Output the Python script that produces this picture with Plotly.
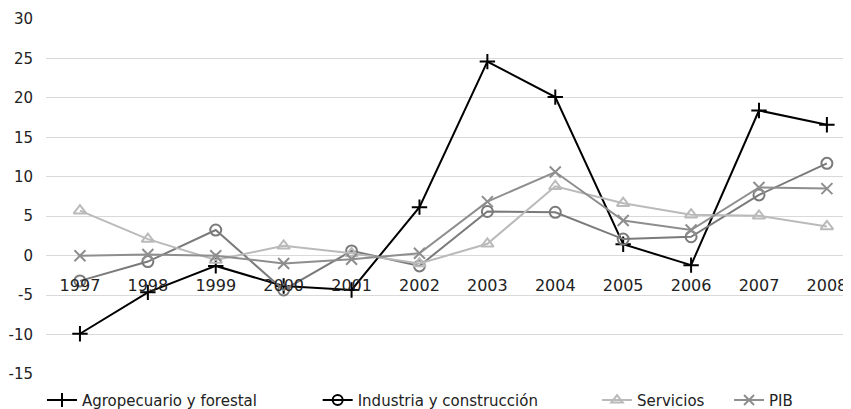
import plotly.graph_objects as go

YEARS = [1997, 1998, 1999, 2000, 2001, 2002, 2003, 2004, 2005, 2006, 2007, 2008]
YEAR_LABELS = [str(y) for y in YEARS]
Y_TICKS = [-15, -10, -5, 0, 5, 10, 15, 20, 25, 30]
Y_LABELS = [str(v) for v in Y_TICKS]  # plain hyphen, as in the source chart
AGRO = [-9.9, -4.65, -1.3, -3.85, -4.35, 6.15, 24.6, 20.1, 1.45, -1.2, 18.4, 16.6]
INDUSTRIA = [-3.2, -0.75, 3.25, -4.35, 0.6, -1.3, 5.6, 5.5, 2.1, 2.4, 7.7, 11.7]
SERVICIOS = [5.7, 2.1, -0.55, 1.25, 0.3, -1.0, 1.5, 8.8, 6.65, 5.2, 5.05, 3.7]
PIB = [0.0, 0.15, 0.0, -1.0, -0.45, 0.3, 6.85, 10.6, 4.45, 3.25, 8.65, 8.5]

# name, values, line colour, legend colour, marker symbol, legend id, legend x
SERIES = [
    ("Agropecuario y forestal", AGRO, "#000000", "#000000", "cross-thin", "legend", -0.005),
    ("Industria y construcción", INDUSTRIA, "#7a7a7a", "#000000", "circle-open", "legend2", 0.3375),
    ("Servicios", SERVICIOS, "#bababa", "#bababa", "triangle-up-open", "legend3", 0.6845),
    ("PIB", PIB, "#8e8e8e", "#8e8e8e", "x-thin", "legend4", 0.8485),
]

fig = go.Figure()
layout_legends = {}
for name, vals, c, lc, sym, lg, lx in SERIES:
    fig.add_scatter(x=YEARS, y=vals, mode="lines+markers", name=name, showlegend=False,
                    line=dict(color=c, width=2),
                    marker=dict(symbol=sym, size=11, color=c, line=dict(color=c, width=2)))
    # legend-only proxy (Excel draws some legend keys darker than the series)
    fig.add_scatter(x=[None], y=[None], mode="lines+markers", name=name, legend=lg,
                    line=dict(color=lc, width=2),
                    marker=dict(symbol=sym, size=10, color=lc, line=dict(color=lc, width=2)))
    layout_legends[lg] = dict(x=lx, xanchor="left", y=-0.074, yanchor="middle",
                              orientation="h", bgcolor="rgba(0,0,0,0)",
                              font=dict(family="DejaVu Sans", size=15, color="#222222"))

# page body adds an 8px margin, so the figure is 8px smaller than the window
fig.update_layout(
    width=843, height=401,
    margin=dict(l=38, r=0, t=11, b=35, autoexpand=False),
    paper_bgcolor="white", plot_bgcolor="white",
    font=dict(family="DejaVu Sans", size=16, color="#222222"),
    **layout_legends,
)
fig.update_xaxes(range=[1996.5, 2008.355], tickvals=YEARS, ticktext=YEAR_LABELS,
                 showgrid=False, zeroline=False, showline=False, ticks="",
                 anchor="free", position=0.2816, automargin=False)
fig.update_yaxes(range=[-15, 30], tickvals=Y_TICKS, ticktext=Y_LABELS,
                 showgrid=True, gridcolor="#d9d9d9", gridwidth=1,
                 zeroline=True, zerolinecolor="#d9d9d9", zerolinewidth=1,
                 showline=False, ticks="", ticklabelstandoff=12, automargin=False,
                 tickfont=dict(size=15))

fig.write_html("out.html")
